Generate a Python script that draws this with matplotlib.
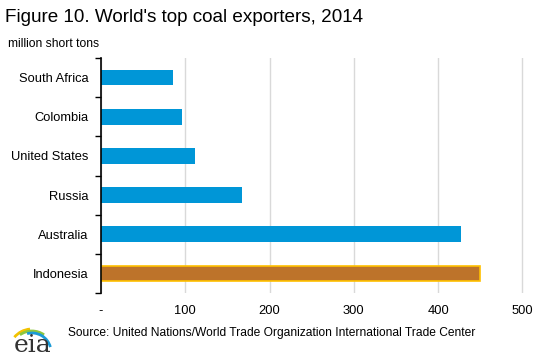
import matplotlib.pyplot as plt
import numpy as np
from matplotlib.patches import Arc

plt.rcParams['font.family'] = ['Liberation Sans', 'DejaVu Sans']

# data (million short tons, 2014)
countries = ["Indonesia", "Australia", "Russia", "United States", "Colombia", "South Africa"]
exports = [450, 427, 167, 112, 96, 86]
xticks = [0, 100, 200, 300, 400, 500]
xticklabels = ["-", "100", "200", "300", "400", "500"]

blue = "#0096D7"
brown = "#BD732A"

fig = plt.figure(figsize=(5.44, 3.64), dpi=100)
ax = fig.add_axes([101 / 544, 1 - 293 / 364, (535 - 101) / 544, (293 - 58) / 364])

y = np.arange(len(countries))
colors = [brown] + [blue] * (len(countries) - 1)
edges = ["#FFC000"] + [blue] * (len(countries) - 1)
ax.barh(y, exports, height=0.4, color=colors, edgecolor=edges, linewidth=[1.2] + [0] * 5, zorder=3)

ax.set_ylim(-0.5, len(countries) - 0.5)
ax.set_xlim(0, 515)
ax.set_yticks(y)
ax.set_yticklabels(countries, fontsize=9.3)
ax.set_yticks(np.arange(-0.5, len(countries)), minor=True)
ax.tick_params(axis="y", which="major", length=0, pad=9)
ax.tick_params(axis="y", which="minor", length=4, width=1, color="black", direction="out")

ax.set_xticks(xticks)
ax.set_xticklabels(xticklabels, fontsize=9.3)
ax.tick_params(axis="x", length=0, pad=9)
ax.grid(axis="x", color="#D9D9D9", linewidth=1, zorder=0)

for s in ["top", "right", "bottom"]:
    ax.spines[s].set_visible(False)
ax.spines["left"].set_linewidth(1.2)
ax.spines["left"].set_zorder(4)

fig.text(5 / 544, 1 - 18 / 364, "Figure 10. World's top coal exporters, 2014", fontsize=13.6,
         va="center", ha="left")
fig.text(8 / 544, 1 - 44 / 364, "million short tons", fontsize=8.7, va="center", ha="left")
fig.text(68 / 544, 1 - 333 / 364, "Source: United Nations/World Trade Organization International Trade Center",
         fontsize=8.65, va="center", ha="left")

# simple eia logo, drawn in a pixel-coordinate overlay
lax = fig.add_axes([0, 0, 1, 1])
lax.set_xlim(0, 544)
lax.set_ylim(0, 364)
lax.axis("off")
lax.text(14, 19, "eia", fontsize=18, family="DejaVu Serif", color="#333333", va="center", ha="left")
for r, c, t1, t2 in zip([23, 21, 19], ["#F2C200", "#8DC63F", "#1A9AD6"],
                        [95, 55, 15], [140, 125, 105]):
    lax.add_patch(Arc((32, 12), 2 * r, 2 * r, theta1=t1, theta2=t2, color=c, linewidth=2))

fig.savefig("out.png", dpi=100)
